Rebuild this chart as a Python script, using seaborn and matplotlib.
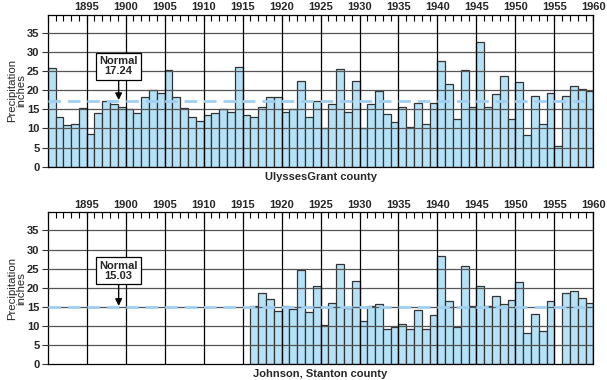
import numpy as np
import pandas as pd
import matplotlib
matplotlib.use("Agg")
import matplotlib.pyplot as plt
import seaborn as sns

years = list(range(1890, 1960))

ulysses_grant = [25.8, 13.0, 10.8, 11.3, 15.3, 8.5, 14.0, 17.1, 16.3, 15.5,
                 15.1, 14.0, 18.3, 20.1, 19.2, 25.3, 18.3, 15.4, 12.9, 12.0,
                 13.5, 14.0, 15.0, 14.4, 26.2, 13.6, 13.0, 15.7, 18.3, 18.3,
                 14.4, 15.0, 22.5, 13.1, 17.3, 10.1, 16.5, 25.6, 14.4, 22.5,
                 10.0, 16.3, 19.9, 13.9, 11.8, 15.5, 10.4, 16.8, 11.3, 16.6,
                 27.6, 21.7, 12.4, 25.3, 15.5, 32.6, 15.7, 18.9, 23.7, 12.6,
                 22.2, 8.4, 18.4, 11.3, 19.3, 5.3, 18.6, 21.1, 20.4, 19.7]

nan = float("nan")
johnson_stanton = [nan] * 26 + [
                 15.1, 18.7, 17.1, 14.0,
                 15.1, 14.3, 24.7, 13.5, 20.4, 10.1, 16.1, 26.3, 14.8, 21.8,
                 11.2, 15.1, 15.8, 9.1, 9.8, 10.6, 9.3, 14.1, 9.3, 12.8,
                 28.4, 16.6, 9.6, 25.8, 15.2, 20.5, 15.1, 17.7, 15.8, 16.9,
                 21.6, 8.0, 13.0, 8.6, 16.6, nan, 18.7, 19.2, 17.3, 16.0]

normals = [17.24, 15.03]
titles = ["UlyssesGrant county", "Johnson, Stanton county"]
year_labels = list(range(1895, 1961, 5))
y_ticks = [0, 5, 10, 15, 20, 25, 30, 35]

sns.set_style("white")
plt.rcParams["font.family"] = ["Liberation Sans", "DejaVu Sans"]

fig = plt.figure(figsize=(6.07, 3.80), dpi=100)
positions = [[0.0786, 0.5613, 0.8989, 0.3992],
             [0.0786, 0.0421, 0.8989, 0.3987]]
series = [ulysses_grant, johnson_stanton]
box_y = [26.3, 24.5]

bar_color = "#b6e2f7"
for i in range(2):
    ax = fig.add_axes(positions[i])
    df = pd.DataFrame({"year": years, "precip": series[i]})
    sns.barplot(data=df, x="year", y="precip", order=years, color=bar_color,
                edgecolor="#333333", linewidth=0.9, width=1.0, errorbar=None,
                saturation=1, ax=ax, zorder=2)
    n = len(years)
    ax.set_xlim(-0.5, n - 0.5)
    ax.set_ylim(0, 39.7)
    ax.set_xlabel("")
    ax.set_ylabel("Precipitation\ninches", fontsize=8.2, linespacing=0.85)
    ax.yaxis.set_label_coords(-0.0395, 0.5)

    # x axis on top
    ax.xaxis.tick_top()
    maj = [(y - years[0]) - 0.5 for y in year_labels]
    ax.set_xticks(maj)
    ax.set_xticklabels([str(y) for y in year_labels], fontsize=8,
                       fontweight="bold")
    ax.set_xticks([k - 0.5 for k in range(n + 1)], minor=True)
    ax.tick_params(axis="x", which="both", direction="in", length=4,
                   top=True, bottom=False, labeltop=True, labelbottom=False,
                   pad=2, color="black", width=0.8)

    ax.set_yticks(y_ticks)
    ax.set_yticklabels([str(v) for v in y_ticks], fontsize=8,
                       fontweight="bold")
    ax.tick_params(axis="y", which="major", direction="out", length=4,
                   left=True, pad=2, color="#333333", width=0.8)

    for v in y_ticks[1:]:
        ax.axhline(v, color="#555555", lw=0.9, zorder=3)
    for x in maj:
        ax.axvline(x, color="black", lw=0.9, zorder=3)

    ax.axhline(normals[i], color="#9fcff2", lw=2.0, ls=(0, (4.5, 2.5)),
               zorder=4)

    ax.annotate(f"Normal\n{normals[i]:.2f}", xy=(8.6, normals[i] + 0.2),
                xytext=(8.6, box_y[i]), ha="center", va="center",
                fontsize=8, fontweight="bold", linespacing=1.0, zorder=6,
                bbox=dict(boxstyle="square,pad=0.3", fc="white", ec="black",
                          lw=0.9),
                arrowprops=dict(arrowstyle="-|>", color="black", lw=1.0,
                                mutation_scale=10, shrinkA=0, shrinkB=0))

    for s in ax.spines.values():
        s.set_color("black")
        s.set_linewidth(0.9)
        s.set_visible(True)

    ax.text(0.5, -0.035, titles[i], transform=ax.transAxes, ha="center",
            va="top", fontsize=8, fontweight="bold")

fig.savefig("out.png", dpi=100)
